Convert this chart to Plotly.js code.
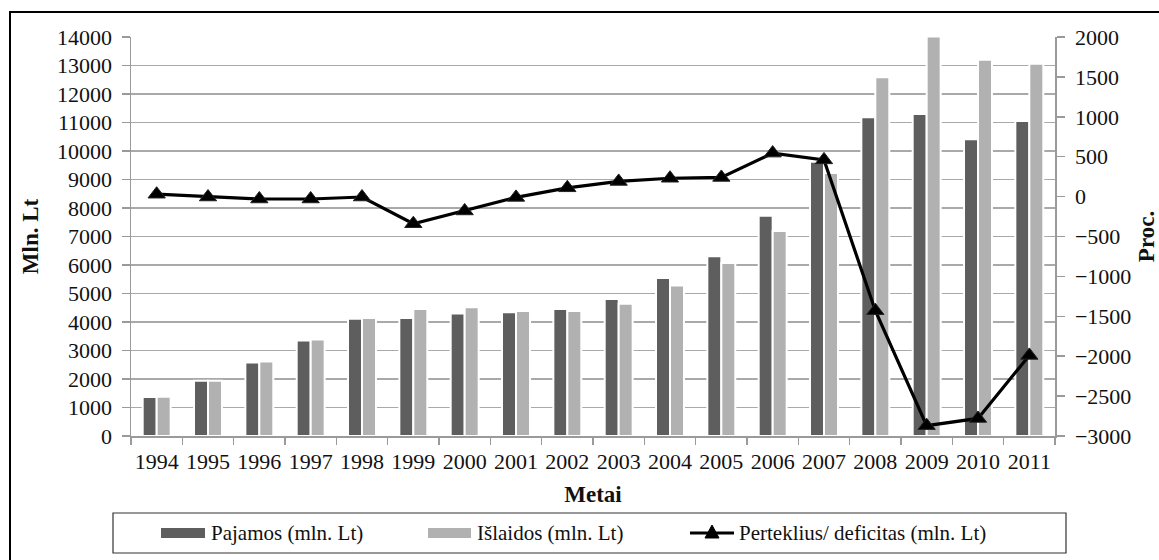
<!DOCTYPE html>
<html>
<head>
<meta charset="utf-8">
<script src="https://cdn.plot.ly/plotly-3.0.1.min.js"></script>
<style>
  html, body { margin: 0; padding: 0; background: #ffffff; }
  #chart { width: 1159px; height: 560px; }
</style>
</head>
<body>
<div id="chart"></div>
<script>
// ---- data ----
const years = ['1994','1995','1996','1997','1998','1999','2000','2001','2002','2003','2004','2005','2006','2007','2008','2009','2010','2011'];
const pajamos = [1370, 1940, 2580, 3350, 4110, 4140, 4300, 4340, 4460, 4810, 5540, 6310, 7730, 9620, 11180, 11300, 10410, 11050];
const islaidos = [1380, 1940, 2610, 3390, 4140, 4460, 4520, 4390, 4390, 4640, 5280, 6070, 7190, 9230, 12590, 14020, 13200, 13060];
const perteklius = [30, -5, -30, -30, -5, -340, -180, -10, 110, 190, 230, 240, 545, 460, -1430, -2870, -2780, -1990];
const legendNames = ['Pajamos (mln. Lt)', 'Išlaidos (mln. Lt)', 'Perteklius/ deficitas (mln. Lt)'];

// ---- layout geometry (pixels) ----
const W = 1159, H = 560;
const L = 131, R = 1055, T = 37, B = 436;
const px = x => (x - L) / (R - L);
const py = y => (B - y) / (B - T);

const FONT = '"Liberation Serif", "Times New Roman", serif';
const TXT = '#111111';
const AX = '#9a9a9a';

const traces = [
  {
    type: 'bar', x: years, y: pajamos, name: legendNames[0],
    marker: { color: '#5e5e5e', line: { color: '#ffffff', width: 2 } },
    hoverinfo: 'x+y'
  },
  {
    type: 'bar', x: years, y: islaidos, name: legendNames[1],
    marker: { color: '#b1b1b1', line: { color: '#ffffff', width: 2 } },
    hoverinfo: 'x+y'
  },
  {
    type: 'scatter', mode: 'lines+markers', x: years, y: perteklius, yaxis: 'y2',
    name: legendNames[2], cliponaxis: false,
    line: { color: '#000000', width: 3.2 },
    marker: { symbol: 'triangle-up', size: 15, color: '#000000', line: { color: '#222', width: 1 } },
    hoverinfo: 'x+y'
  }
];

// manual legend (box + samples)
const legY = 533;
const shapes = [
  // outer frame
  { type: 'rect', xref: 'paper', yref: 'paper', x0: px(10), x1: px(1170), y0: py(12), y1: py(575),
    line: { color: '#000', width: 2 }, fillcolor: 'rgba(0,0,0,0)', layer: 'below' },
  // legend box
  { type: 'rect', xref: 'paper', yref: 'paper', x0: px(113), x1: px(1066), y0: py(513), y1: py(553),
    line: { color: '#333', width: 1.2 }, fillcolor: 'rgba(0,0,0,0)' },
  { type: 'rect', xref: 'paper', yref: 'paper', x0: px(161), x1: px(205), y0: py(legY - 5), y1: py(legY + 5),
    line: { width: 0 }, fillcolor: '#5e5e5e' },
  { type: 'rect', xref: 'paper', yref: 'paper', x0: px(428), x1: px(471), y0: py(legY - 5), y1: py(legY + 5),
    line: { width: 0 }, fillcolor: '#b1b1b1' },
  { type: 'line', xref: 'paper', yref: 'paper', x0: px(690), x1: px(734), y0: py(legY), y1: py(legY),
    line: { color: '#000', width: 3 } },
  { type: 'path', xref: 'paper', yref: 'paper',
    path: `M ${px(705)} ${py(legY + 5)} L ${px(719)} ${py(legY + 5)} L ${px(712)} ${py(legY - 8)} Z`,
    line: { color: '#000', width: 1 }, fillcolor: '#000' }
];

const annotations = legendNames.map((name, i) => ({
  xref: 'paper', yref: 'paper', x: px([209, 475, 737][i]), y: py(legY), xanchor: 'left', yanchor: 'middle',
  text: '<span style="font-family: Liberation Serif, serif">' + name + '</span>',
  showarrow: false, font: { family: FONT, size: 21, color: TXT }
}));

const layout = {
  width: W, height: H,
  margin: { l: L, r: W - R, t: T, b: H - B, pad: 0 },
  paper_bgcolor: '#ffffff', plot_bgcolor: '#ffffff',
  showlegend: false,
  barmode: 'group', bargap: 0.455, bargroupgap: 0,
  font: { family: FONT, size: 22, color: TXT },
  xaxis: {
    type: 'category', range: [-0.5, years.length - 0.5], autorange: false,
    tickson: 'boundaries', ticks: 'outside', ticklen: 7, tickcolor: AX, tickwidth: 1.5,
    showline: true, linecolor: AX, linewidth: 1.5, showgrid: false, automargin: false, tickangle: 0,
    tickfont: { family: FONT, size: 22, color: TXT }, ticklabelstandoff: 5,
    title: { text: '<b>Metai</b>', font: { family: FONT, size: 23, color: TXT }, standoff: 13 }
  },
  yaxis: {
    range: [0, 14000], autorange: false, dtick: 1000, tick0: 0, tickformat: 'd',
    ticks: 'outside', ticklen: 8, tickcolor: AX, tickwidth: 1.5,
    showline: true, linecolor: AX, linewidth: 1.5, gridcolor: '#a9a9a9', gridwidth: 1.5, zeroline: false,
    automargin: false, tickfont: { family: FONT, size: 22, color: TXT }, ticklabelstandoff: 5,
    title: { text: '<b>Mln. Lt</b>', font: { family: FONT, size: 23, color: TXT }, standoff: 12 }
  },
  yaxis2: {
    overlaying: 'y', side: 'right', range: [-3000, 2000], autorange: false, dtick: 500, tick0: 0, tickformat: 'd',
    ticks: 'outside', ticklen: 8, tickcolor: AX, tickwidth: 1.5,
    showline: true, linecolor: AX, linewidth: 1.5, showgrid: false, zeroline: false,
    automargin: false, tickfont: { family: FONT, size: 22, color: TXT }, ticklabelstandoff: 6,
    title: { text: '<b>Proc.</b>', font: { family: FONT, size: 23, color: TXT }, standoff: 11 }
  },
  shapes: shapes,
  annotations: annotations
};

Plotly.newPlot('chart', traces, layout, { displayModeBar: false, staticPlot: true });
</script>
</body>
</html>
